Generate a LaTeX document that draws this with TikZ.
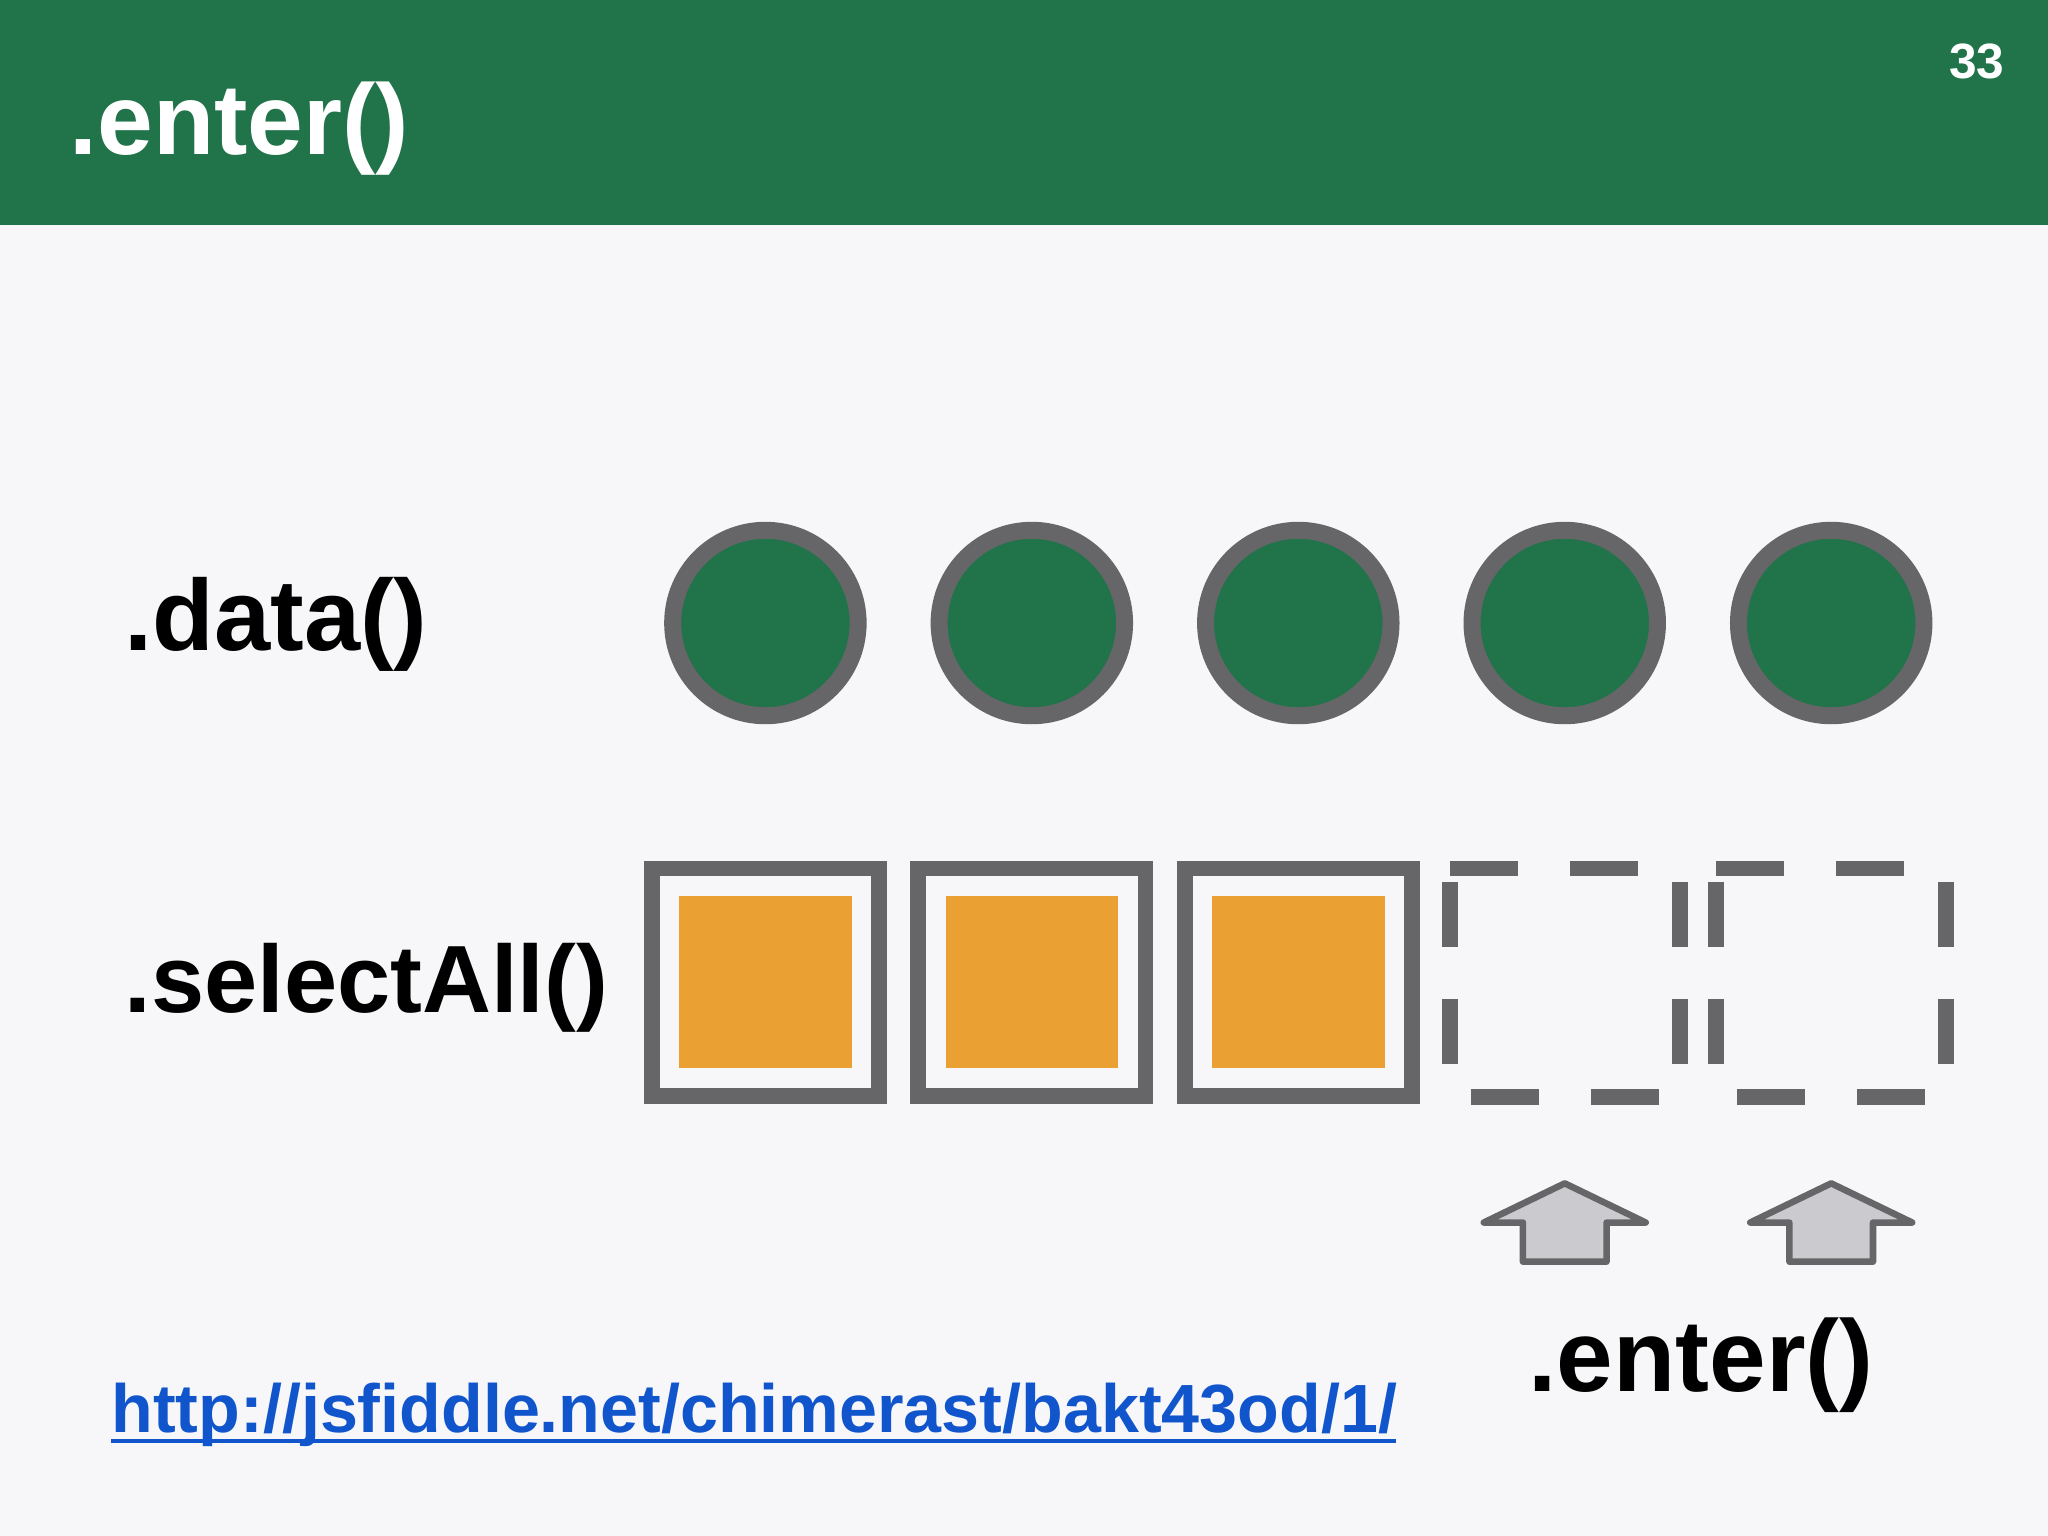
\documentclass[tikz,border=0pt]{standalone}
\usepackage{fontspec}
\setmainfont{Liberation Sans}
\usepackage{graphicx}
\definecolor{hdr}{HTML}{21734A}
\definecolor{bg}{HTML}{F7F7F9}
\definecolor{edge}{HTML}{666568}
\definecolor{orng}{HTML}{EBA033}
\definecolor{arrf}{HTML}{CBCACE}
\definecolor{url}{HTML}{1155CC}
\begin{document}
\begin{tikzpicture}[x=0.5pt,y=-0.5pt,
  dot/.style={circle,draw=edge,fill=hdr,line width=6.5pt,minimum size=71pt,inner sep=0},
  box/.style={draw=edge,line width=6pt,minimum size=87pt,inner sep=0},
  dsh/.style={draw=edge,line width=6pt},
  fillsq/.style={fill=orng,minimum width=66pt,minimum height=66pt,inner sep=0},
  lbl/.style={anchor=base west,inner sep=0,font=\bfseries\fontsize{36}{40}\selectfont},
  uparr/.style={draw=edge,fill=arrf,line width=2.5pt,line join=round}]
\fill[bg] (0,0) rectangle (1568,1176);
\useasboundingbox (0,0) rectangle (1568,1176);
\fill[hdr] (0,0) rectangle (1568,172);
\node[anchor=base west,inner sep=0,text=white,font=\bfseries\fontsize{40}{44}\selectfont] (title) at (53,118) {\resizebox{130pt}{!}{.enter()}};
\node[anchor=base east,inner sep=0,text=white,font=\bfseries\fontsize{19}{22}\selectfont] (pg) at (1535,60) {33};
\foreach \i/\x in {1/586,2/790,3/994,4/1198,5/1402}{
  \node[dot] (c\i) at (\x,477) {};
}
\foreach \i/\x in {1/586,2/790,3/994}{
  \node[box] (s\i) at (\x,752) {};
  \node[fillsq] (f\i) at (\x,752) {};
}
\foreach \i/\d in {4/0,5/204}{
  \begin{scope}[xshift=\d*0.5pt]
  \draw[dsh] (1110,665) -- (1162,665) (1202,665) -- (1254,665);
  \draw[dsh] (1126,840) -- (1178,840) (1218,840) -- (1270,840);
  \draw[dsh] (1110,675) -- (1110,725) (1110,765) -- (1110,815);
  \draw[dsh] (1286,675) -- (1286,725) (1286,765) -- (1286,815);
  \end{scope}
  \coordinate (s\i) at (1198+\d,752);
}
\foreach \i/\x in {4/1198,5/1402}{
  \draw[uparr] (\x,906) -- ++(62,30) -- ++(-30,0) -- ++(0,30) -- ++(-64,0) -- ++(0,-30) -- ++(-30,0) -- cycle;
  \coordinate (a\i) at (\x,936);
}
\node[lbl] (ld) at (95,498) {\resizebox{116pt}{!}{.data()}};
\node[lbl] (ls) at (95,775) {\resizebox{185pt}{!}{.selectAll()}};
\node[lbl] (le) at (1170,1065) {\resizebox{132pt}{!}{.enter()}};
\node[anchor=base west,inner sep=0,text=url] (u) at (85,1097) {\resizebox{492pt}{!}{\bfseries http://jsfiddle.net/chimerast/bakt43od/1/}};
\draw[url,line width=1.5pt] (85,1103) -- (1069,1103);
\end{tikzpicture}
\end{document}
